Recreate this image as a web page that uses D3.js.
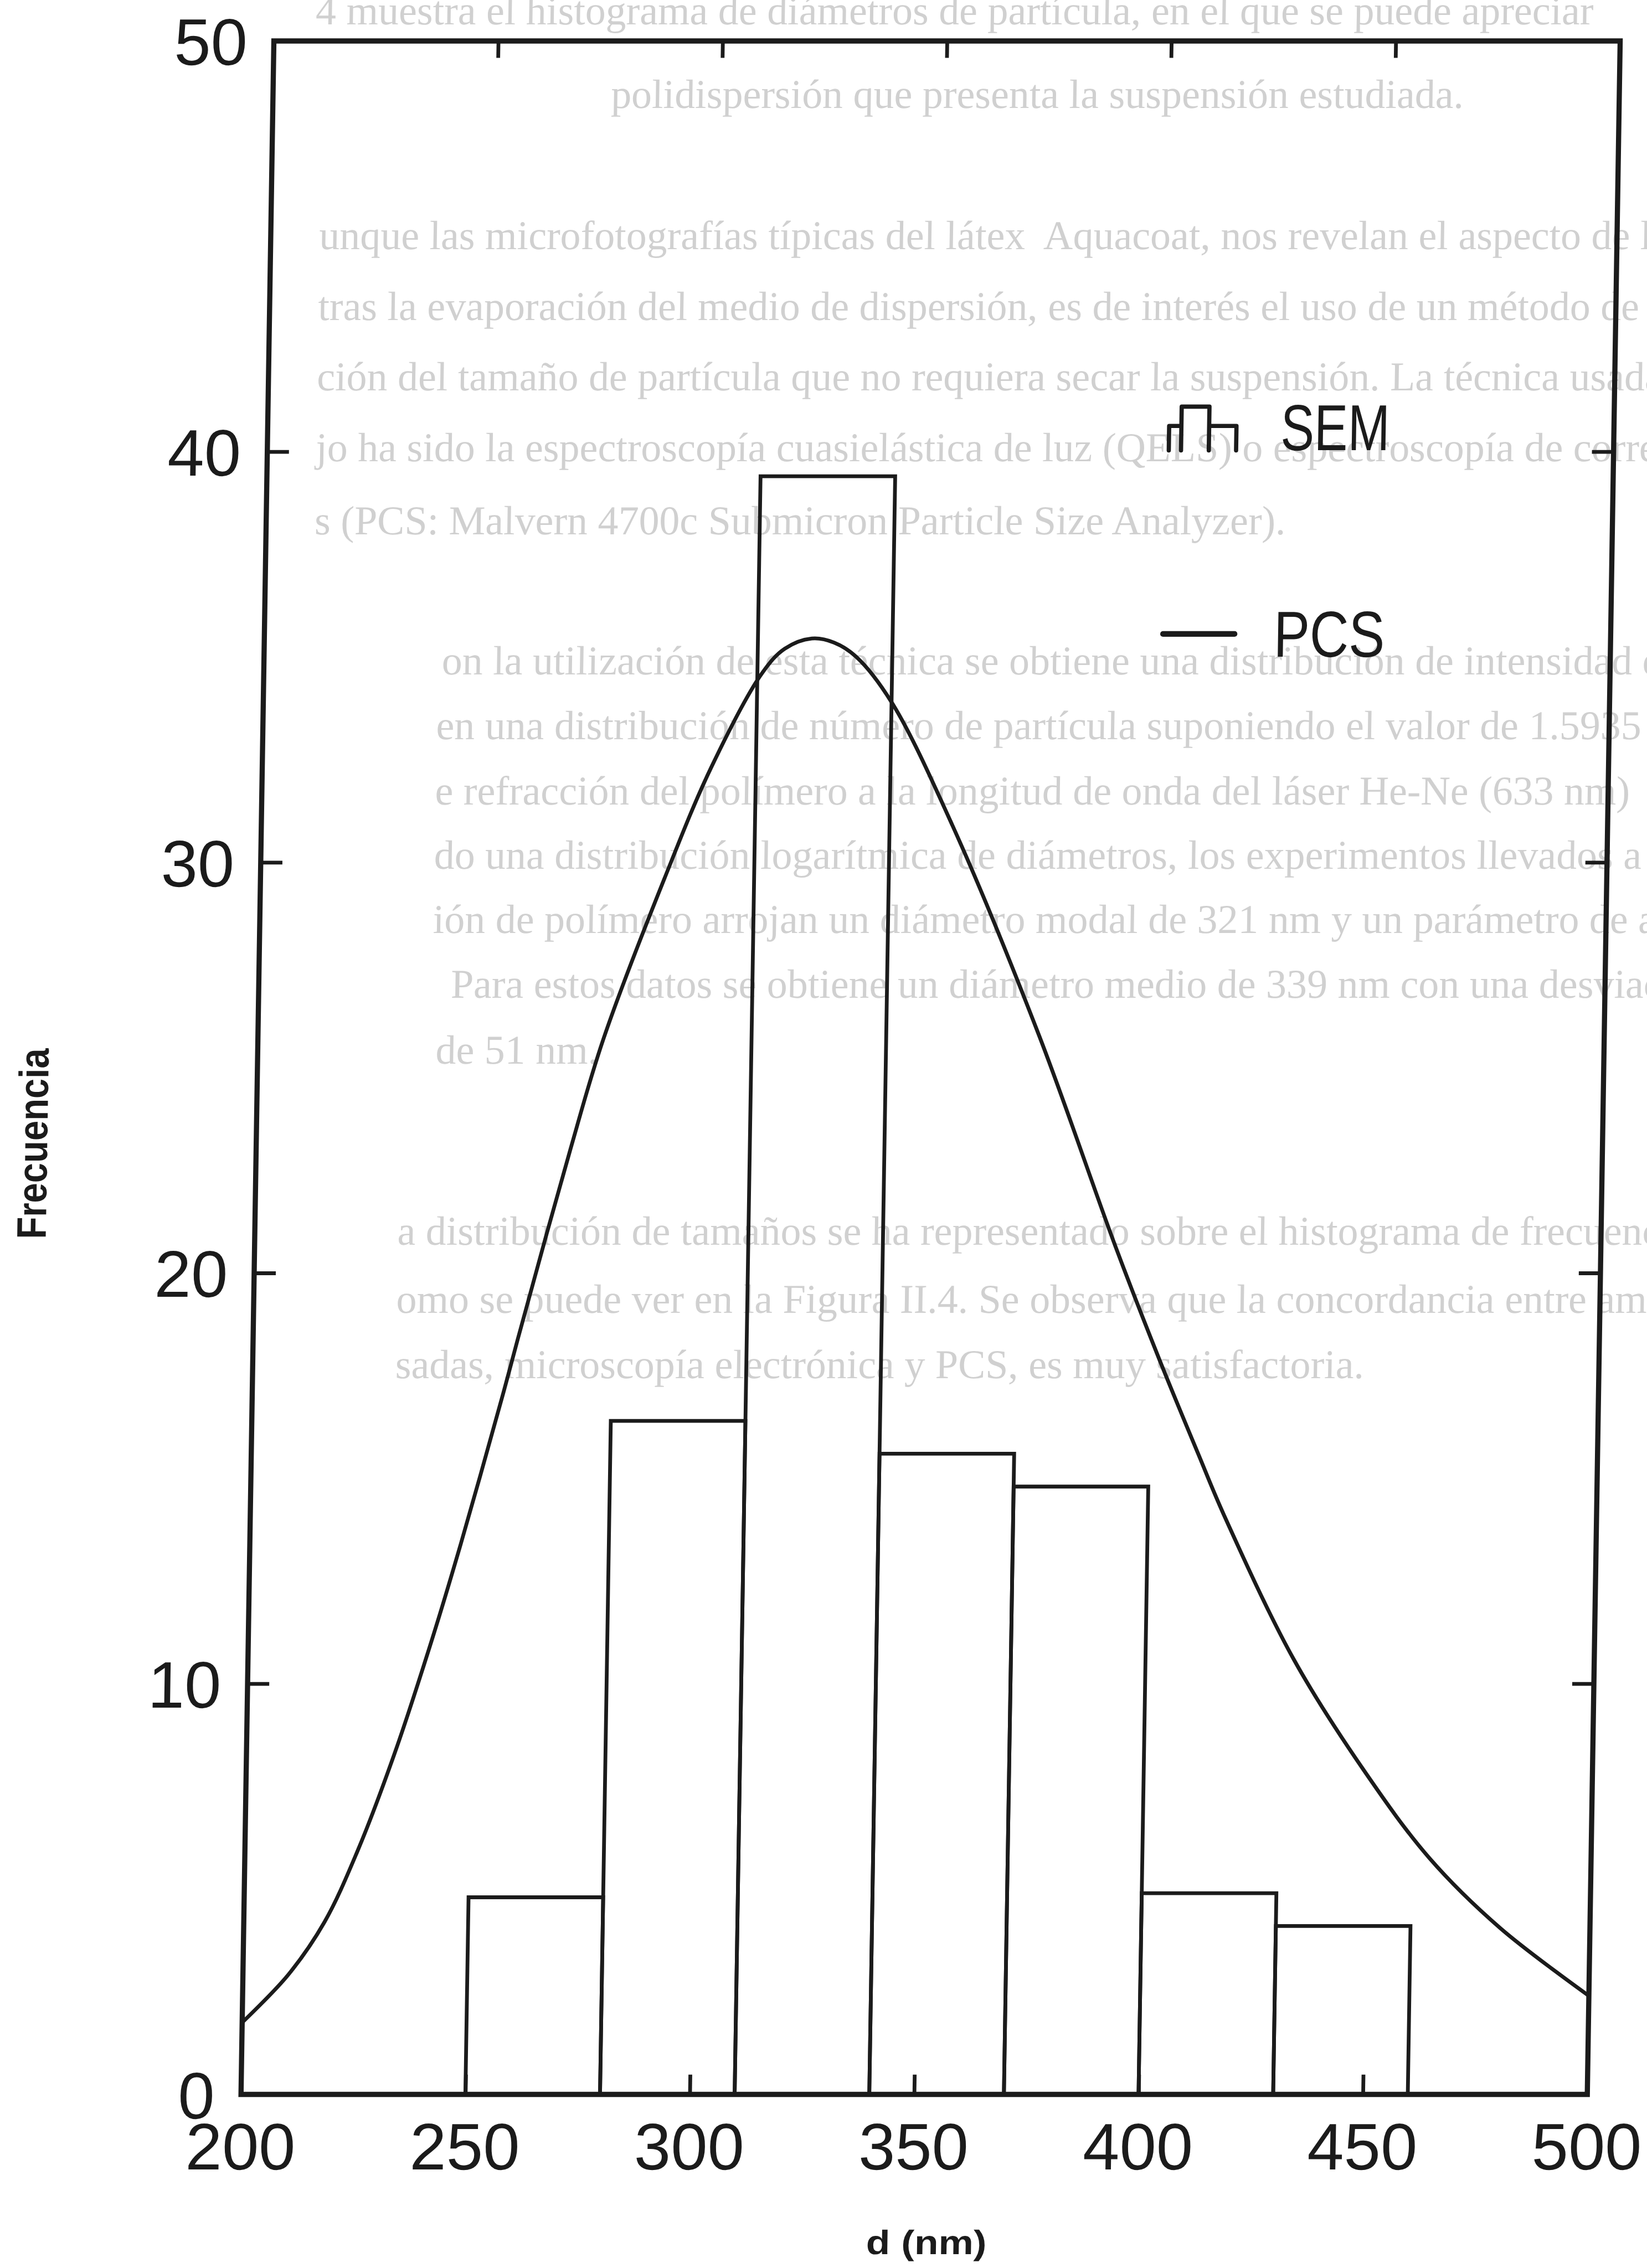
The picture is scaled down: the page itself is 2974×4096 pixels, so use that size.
<!DOCTYPE html>
<html>
<head>
<meta charset="utf-8">
<script src="https://cdn.jsdelivr.net/npm/d3@7"></script>
<style>
  html, body { margin: 0; padding: 0; background: #ffffff; }
  svg { display: block; }
</style>
</head>
<body>
<script>
// ---- Data -------------------------------------------------------------
// SEM histogram: bin starts (nm), common bin width, frequency (%)
const binStart = [250, 280, 310, 340, 370, 400, 430];
const binWidth = 30;
const semFreq  = [4.8, 16.4, 39.4, 15.6, 14.8, 4.9, 4.1];

// PCS number distribution, sampled along the curve
const pcsD = [200, 210, 218, 225, 233, 241, 247, 256, 259, 270, 277, 290, 300, 311,
              316, 322, 327, 332, 340, 354, 374, 392, 402, 411, 417, 433, 449, 464, 480, 500];
const pcsF = [1.75, 2.9, 4.2, 5.9, 8.3, 11.1, 13.4, 17.1, 18.4, 23.0, 25.7, 29.6, 32.3, 34.6,
              35.2, 35.45, 35.35, 35.0, 33.9, 30.9, 25.8, 20.6, 17.9, 15.6, 14.1, 10.6, 7.9, 5.75, 4.05, 2.4];

const xTicks = [200, 250, 300, 350, 400, 450, 500];
const yTicks = [0, 10, 20, 30, 40, 50];
const xTitle = "d (nm)";
const yTitle = "Frecuencia";
const legendLabels = ["SEM", "PCS"];

// Body text of the printed page behind the figure
const pageText = [
  "4 muestra el histograma de diámetros de partícula, en el que se puede apreciar",
  "polidispersión que presenta la suspensión estudiada.",
  "unque las microfotografías típicas del látex  Aquacoat, nos revelan el aspecto de la",
  "tras la evaporación del medio de dispersión, es de interés el uso de un método de",
  "ción del tamaño de partícula que no requiera secar la suspensión. La técnica usada",
  "jo ha sido la espectroscopía cuasielástica de luz (QELS) o espectroscopía de correlación",
  "s (PCS: Malvern 4700c Submicron Particle Size Analyzer).",
  "on la utilización de esta técnica se obtiene una distribución de intensidad que se",
  "en una distribución de número de partícula suponiendo el valor de 1.5935 para el",
  "e refracción del polímero a la longitud de onda del láser He-Ne (633 nm)",
  "do una distribución logarítmica de diámetros, los experimentos llevados a cabo con",
  "ión de polímero arrojan un diámetro modal de 321 nm y un parámetro de anchura",
  "Para estos datos se obtiene un diámetro medio de 339 nm con una desviación",
  "de 51 nm.",
  "a distribución de tamaños se ha representado sobre el histograma de frecuencias",
  "omo se puede ver en la Figura II.4. Se observa que la concordancia entre ambas",
  "sadas, microscopía electrónica y PCS, es muy satisfactoria."
];
// start x and baseline y of each page line (drawing units)
const pageTextX = [600, 1230, 615, 615, 615, 615, 615, 890, 880, 880, 880, 880, 920, 890, 815, 815, 815];
const pageTextY = [52, 230, 530, 680, 830, 980, 1135, 1433, 1571, 1709, 1846, 1982, 2120, 2260, 2645, 2790, 2928];

// ---- Layout -----------------------------------------------------------
const W = 2974, H = 4096, K = 0.85;          // output size and drawing scale
const plotL = 512, plotR = 3372, plotT = 87, plotB = 4450;
const shear = -0.016;                         // slight skew of the printed sheet
const ink = "#1b1b1b";
const numFont = "'Liberation Sans', Arial, sans-serif";

const svg = d3.select("body").append("svg")
  .attr("width", W).attr("height", H)
  .attr("viewBox", `0 0 ${W} ${H}`);

svg.append("rect").attr("width", W).attr("height", H).attr("fill", "#ffffff");

const root = svg.append("g").attr("transform", `scale(${K})`);
const sheet = root.append("g")
  .attr("transform", `translate(0,${plotB}) skewX(${Math.atan(shear) * 180 / Math.PI}) translate(0,${-plotB})`);

// faint page text
sheet.append("g")
  .attr("font-family", "'Liberation Serif', 'DejaVu Serif', serif")
  .attr("font-size", 87)
  .attr("fill", "#d0d0d0")
  .selectAll("text")
  .data(pageText)
  .join("text")
  .attr("x", (d, i) => pageTextX[i])
  .attr("y", (d, i) => pageTextY[i])
  .attr("xml:space", "preserve")
  .text(d => d);

const x = d3.scaleLinear().domain([200, 500]).range([plotL, plotR]);
const y = d3.scaleLinear().domain([0, 50]).range([plotB, plotT]);

// ---- Axes (ticks point inward) ------------------------------------------
function styleAxis(g, showLabels) {
  g.select(".domain").remove();
  g.selectAll(".tick line").attr("stroke", ink).attr("stroke-width", 8);
  g.selectAll(".tick text")
    .attr("fill", ink)
    .attr("font-family", numFont)
    .attr("font-size", 140)
    .style("display", showLabels ? null : "none");
}

sheet.append("g")
  .attr("transform", `translate(0,${plotB})`)
  .call(d3.axisBottom(x).tickValues(xTicks).tickSize(-42).tickPadding(60).tickFormat(d3.format("d")))
  .call(g => styleAxis(g, true));

sheet.append("g")
  .attr("transform", `translate(0,${plotT})`)
  .call(d3.axisTop(x).tickValues(xTicks).tickSize(-36))
  .call(g => styleAxis(g, false));

sheet.append("g")
  .attr("transform", `translate(${plotL},0)`)
  .call(d3.axisLeft(y).tickValues(yTicks).tickSize(-46).tickPadding(56).tickFormat(d3.format("d")))
  .call(g => styleAxis(g, true))
  .call(g => g.selectAll(".tick text").attr("dy", "0.36em"));

sheet.append("g")
  .attr("transform", `translate(${plotR},0)`)
  .call(d3.axisRight(y).tickValues(yTicks).tickSize(-46))
  .call(g => styleAxis(g, false));

// ---- SEM histogram ----------------------------------------------------
sheet.append("g")
  .selectAll("rect")
  .data(binStart)
  .join("rect")
  .attr("x", d => x(d))
  .attr("y", (d, i) => y(semFreq[i]))
  .attr("width", d => x(d + binWidth) - x(d))
  .attr("height", (d, i) => y(0) - y(semFreq[i]))
  .attr("fill", "none")
  .attr("stroke", ink)
  .attr("stroke-width", 8);

// ---- PCS curve --------------------------------------------------------
const line = d3.line()
  .x(d => x(d))
  .y((d, i) => y(pcsF[i]))
  .curve(d3.curveCatmullRom.alpha(0.5));

sheet.append("path")
  .attr("d", line(pcsD))
  .attr("fill", "none")
  .attr("stroke", ink)
  .attr("stroke-width", 8)
  .attr("stroke-linejoin", "round");

// ---- Frame ------------------------------------------------------------
sheet.append("rect")
  .attr("x", x(200)).attr("y", y(50))
  .attr("width", x(500) - x(200))
  .attr("height", y(0) - y(50))
  .attr("fill", "none")
  .attr("stroke", ink)
  .attr("stroke-width", 11);

// ---- Legend -----------------------------------------------------------
const leg = sheet.append("g").attr("fill", ink).attr("font-family", numFont).attr("font-size", 138);

// miniature histogram glyph for SEM
leg.append("path")
  .attr("d", "M2427,957 V905 H2453 V864 H2512 V957 M2453,905 V957 M2512,905 H2570 V957")
  .attr("fill", "none").attr("stroke", ink).attr("stroke-width", 9)
  .attr("stroke-linejoin", "round").attr("stroke-linecap", "round");
leg.append("text")
  .attr("x", 2664).attr("y", 957)
  .attr("textLength", 232).attr("lengthAdjust", "spacingAndGlyphs")
  .text(legendLabels[0]);

leg.append("line")
  .attr("x1", 2421).attr("x2", 2573).attr("y1", 1347).attr("y2", 1347)
  .attr("stroke", ink).attr("stroke-width", 12).attr("stroke-linecap", "round");
leg.append("text")
  .attr("x", 2656).attr("y", 1395)
  .attr("textLength", 236).attr("lengthAdjust", "spacingAndGlyphs")
  .text(legendLabels[1]);

// ---- Axis titles ------------------------------------------------------
sheet.append("text")
  .attr("x", 1973).attr("y", 4790)
  .attr("text-anchor", "middle")
  .attr("font-family", numFont).attr("font-weight", 700).attr("font-size", 72)
  .attr("textLength", 256).attr("lengthAdjust", "spacingAndGlyphs")
  .attr("fill", ink)
  .text(xTitle);

sheet.append("text")
  .attr("transform", "translate(68,2430) rotate(-90)")
  .attr("text-anchor", "middle")
  .attr("font-family", numFont).attr("font-weight", 700).attr("font-size", 88)
  .attr("textLength", 405).attr("lengthAdjust", "spacingAndGlyphs")
  .attr("fill", ink)
  .text(yTitle);
</script>
</body>
</html>
